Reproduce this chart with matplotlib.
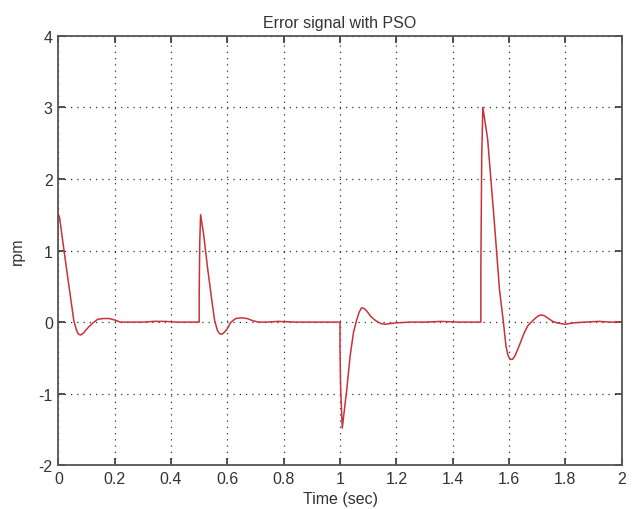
import matplotlib
matplotlib.use("Agg")
import matplotlib.pyplot as plt

# error signal samples (time in sec, error in rpm)
time_s = [
    0.0, 0.004, 0.015, 0.03, 0.045, 0.055, 0.065, 0.072, 0.08, 0.09,
    0.10, 0.12, 0.14, 0.16, 0.18, 0.20, 0.22, 0.26, 0.30, 0.34, 0.38,
    0.42, 0.46, 0.50,
    0.50, 0.502, 0.505, 0.515, 0.53, 0.545, 0.555, 0.565, 0.572, 0.58,
    0.59, 0.60, 0.613, 0.63, 0.65, 0.67, 0.69, 0.71, 0.74, 0.78, 0.84,
    0.90, 0.96, 1.00,
    1.00, 1.002, 1.008, 1.024, 1.036, 1.048, 1.06, 1.068, 1.077, 1.086,
    1.096, 1.107, 1.12, 1.131, 1.145, 1.16, 1.18, 1.20, 1.25, 1.30,
    1.36, 1.42, 1.50,
    1.50, 1.503, 1.507, 1.524, 1.548, 1.566, 1.58, 1.589, 1.596, 1.604,
    1.612, 1.62, 1.631, 1.643, 1.655, 1.667, 1.679, 1.695, 1.705, 1.714,
    1.725, 1.74, 1.755, 1.77, 1.798, 1.83, 1.87, 1.92, 1.96, 2.00,
]
error_rpm = [
    1.50, 1.47, 1.15, 0.72, 0.30, 0.02, -0.12, -0.17, -0.18, -0.15,
    -0.10, -0.02, 0.04, 0.05, 0.05, 0.03, 0.00, 0.00, 0.00, 0.01, 0.01,
    0.00, 0.00, 0.00,
    0.36, 1.10, 1.50, 1.25, 0.75, 0.30, 0.02, -0.12, -0.16, -0.17,
    -0.14, -0.09, 0.00, 0.05, 0.06, 0.05, 0.02, 0.00, 0.00, 0.01, 0.00,
    0.00, 0.00, 0.00,
    -0.38, -0.90, -1.48, -0.94, -0.47, -0.14, 0.04, 0.14, 0.20, 0.19,
    0.15, 0.09, 0.04, 0.01, -0.02, -0.03, -0.02, -0.01, 0.00, 0.00,
    0.01, 0.00, 0.00,
    0.75, 2.30, 3.00, 2.56, 1.39, 0.46, 0.00, -0.33, -0.46, -0.52,
    -0.52, -0.48, -0.38, -0.26, -0.14, -0.05, 0.00, 0.06, 0.09, 0.10,
    0.09, 0.05, 0.01, -0.01, -0.03, -0.01, 0.00, 0.01, 0.00, 0.00,
]

x_ticks = [0, 0.2, 0.4, 0.6, 0.8, 1, 1.2, 1.4, 1.6, 1.8, 2]
x_labels = ["0", "0.2", "0.4", "0.6", "0.8", "1", "1.2", "1.4", "1.6", "1.8", "2"]
y_ticks = [-2, -1, 0, 1, 2, 3, 4]

plt.rcParams["font.family"] = ["Liberation Sans", "DejaVu Sans"]
plt.rcParams["axes.unicode_minus"] = False

fig = plt.figure(figsize=(6.34, 5.10), dpi=100)
ax = fig.add_axes([0.092, 0.0857, 0.8886, 0.8423])

ax.plot(time_s, error_rpm, color="#c8323a", linewidth=1.1)

ax.set_xlim(0, 2)
ax.set_ylim(-2, 4)
ax.set_xticks(x_ticks)
ax.set_xticklabels(x_labels)
ax.set_yticks(y_ticks)

ax.grid(True, linestyle=(0, (1, 4)), color="#333333", linewidth=0.9)
ax.tick_params(direction="in", top=True, right=True, length=5, width=1.2,
               labelsize=11.5, colors="#333333", pad=4)
for spine in ax.spines.values():
    spine.set_color("#555555")
    spine.set_linewidth(1.3)

ax.set_title("Error signal with PSO", fontsize=11.5, color="#333333", pad=6)
ax.set_xlabel("Time (sec)", fontsize=11.5, color="#333333", labelpad=4)
ax.set_ylabel("rpm", fontsize=11.5, color="#333333", labelpad=10)

fig.savefig("out.png", dpi=100)
